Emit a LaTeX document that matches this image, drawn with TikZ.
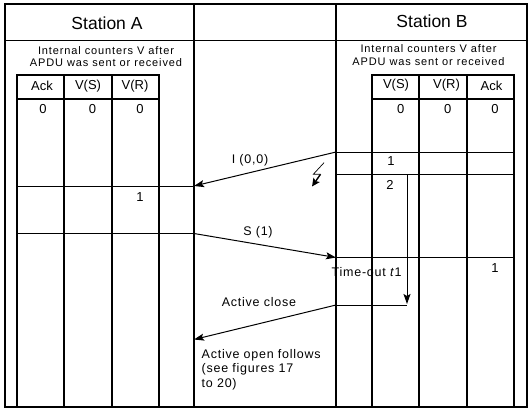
\documentclass[tikz,border=0pt]{standalone}
\usepackage{fontspec}
\setmainfont{Liberation Sans}
\newfontfamily\lsfont[LetterSpace=6]{Liberation Sans}
\newfontfamily\icfont[LetterSpace=8]{Liberation Sans}
\usetikzlibrary{arrows.meta}
\begin{document}
\begin{tikzpicture}[x=1pt,y=-1pt,
  frame/.style={line width=2pt},
  col/.style={line width=1.3pt},
  hbox/.style={line width=1.6pt},
  thin/.style={line width=1pt},
  arr/.style={line width=1pt,-{Stealth[length=10pt,width=7pt,inset=2pt]}},
  bolt/.style={line width=0.7pt},
  boltarr/.style={line width=1.4pt,-{Stealth[length=8pt,width=7.5pt,inset=1.5pt]}},
  lbl/.style={inner sep=0pt,font=\lsfont\fontsize{12.5}{14.7}\selectfont},
  ic/.style={inner sep=0pt,font=\icfont\fontsize{11}{13}\selectfont},
  hdr/.style={inner sep=0pt,font=\fontsize{13}{15}\selectfont},
  ttl/.style={inner sep=0pt,font=\fontsize{17.5}{20}\selectfont},
]
\useasboundingbox (0,0) rectangle (531,413);
% frame and dividers
\draw[frame] (5,4) rectangle (526.7,406.5);
\draw[col] (194,4) -- (194,406.5);
\draw[col] (336,4) -- (336,406.5);
\draw[col] (5,40.5) -- (526.7,40.5);
% left table
\draw[hbox] (17,75) rectangle (159,99);
\foreach \x in {17,64,112,159} \draw[col] (\x,75) -- (\x,406.5);
% right table
\draw[hbox] (372,75) rectangle (514,99);
\foreach \x in {372,419,467,514} \draw[col] (\x,75) -- (\x,406.5);
% coordinates
\coordinate (b1) at (336,152);
\coordinate (a1) at (194,186);
\coordinate (a2) at (194,233.5);
\coordinate (b2) at (336,257.5);
\coordinate (b3) at (336,305);
\coordinate (a3) at (194,339.5);
\coordinate (tstart) at (407,174.5);
\coordinate (tend) at (407,304);
\coordinate (tcorner) at (407,305);
\coordinate (la1) at (17,186);
\coordinate (la2) at (17,233.5);
\coordinate (rb1) at (514,152);
\coordinate (rb2) at (514,174.5);
\coordinate (lb2) at (336,174.5);
\coordinate (rb3) at (514,257.5);
% horizontal rows
\draw[thin] (la1) -- (a1);
\draw[thin] (la2) -- (a2);
\draw[thin] (b1) -- (rb1);
\draw[thin] (lb2) -- (rb2);
\draw[thin] (b2) -- (rb3);
\draw[thin] (b3) -- (tcorner);
% timer
\draw[arr] (tstart) -- (tend);
% messages
\draw[arr] (b1) -- (a1);
\draw[arr] (a2) -- (b2);
\draw[arr] (b3) -- (a3);
% lightning
\coordinate (z1) at (324,162.7);
\coordinate (z2) at (313.3,174.3);
\coordinate (z3) at (320.5,174.3);
\coordinate (z4) at (312,186.5);
\draw[bolt] (z1) -- (z2) -- (z3);
\draw[boltarr] (z3) -- (z4);
% titles
\node[ttl] (sta) at (107,23) {Station A};
\node[ttl] (stb) at (432,21.5) {Station B};
\node[ic] (ica1) at (106,50.5) {Internal counters V after};
\node[ic] (ica2) at (106,62.5) {APDU was sent or received};
\node[ic] (icb1) at (428.5,48.5) {Internal counters V after};
\node[ic] (icb2) at (428.5,62) {APDU was sent or received};
% headers
\node[hdr] (ha1) at (42,86) {Ack};
\node[hdr] (ha2) at (88,86) {V(S)};
\node[hdr] (ha3) at (135,86) {V(R)};
\node[hdr] (hb1) at (396,85.5) {V(S)};
\node[hdr] (hb2) at (446.5,85.5) {V(R)};
\node[hdr] (hb3) at (491.5,85.5) {Ack};
% values
\node[hdr] (va1) at (43,109) {0};
\node[hdr] (va2) at (92.5,109) {0};
\node[hdr] (va3) at (140,109) {0};
\node[hdr] (vb1) at (400.7,109) {0};
\node[hdr] (vb2) at (447.7,109) {0};
\node[hdr] (vb3) at (495,109) {0};
\node[hdr] (vb4) at (391,160.7) {1};
\node[hdr] (vb5) at (390,185) {2};
\node[hdr] (va4) at (140,197) {1};
\node[hdr] (vb6) at (495,268) {1};
% message labels
\node[lbl] (li) at (250,160) {I (0,0)};
\node[lbl] (ls) at (258,232) {S (1)};
\node[lbl] (lt) at (366.7,271.7) {Time-out \textit{t}1};
\node[lbl] (lc) at (259,301.7) {Active close};
\node[lbl,align=left,anchor=west] (lo) at (201.5,369.5) {Active open follows\\(see figures 17\\to 20)};
\end{tikzpicture}
\end{document}
